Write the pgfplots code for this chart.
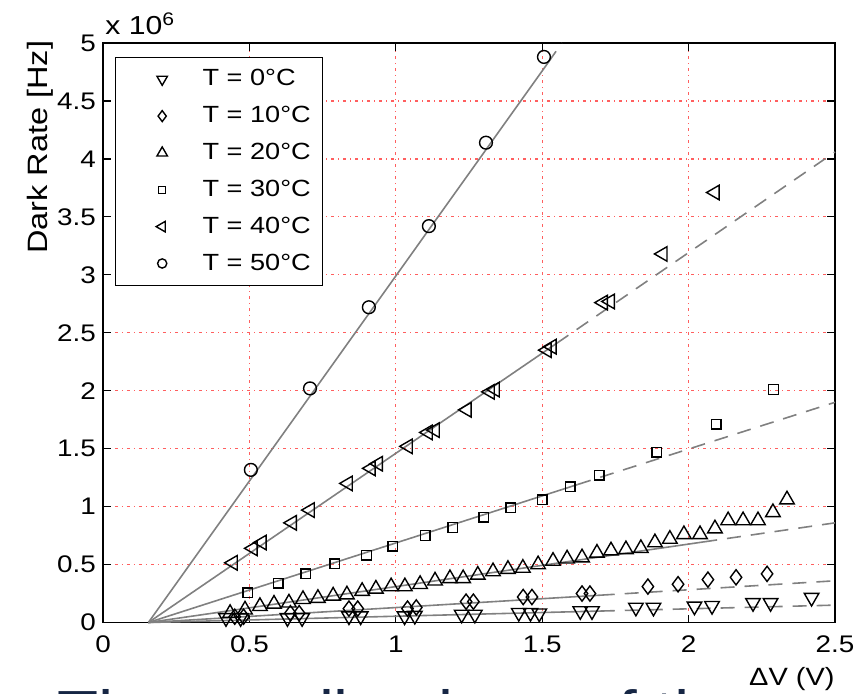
\documentclass[border=0pt]{standalone}
\usepackage{fontspec}
\setmainfont{Liberation Sans}[FakeStretch=1.16]
\usepackage{pgfplots}
\pgfplotsset{compat=1.18}
\definecolor{gridred}{RGB}{255,95,95}
\definecolor{fitgray}{RGB}{128,128,128}
\definecolor{slidenavy}{RGB}{22,38,68}

\begin{document}
\begin{tikzpicture}
\begin{axis}[
  scale only axis,
  width=366pt, height=289.75pt,
  xmin=0, xmax=2.5, ymin=0, ymax=5,
  clip=false,
  xtick={0,0.5,1,1.5,2,2.5},
  ytick={0,0.5,1,1.5,2,2.5,3,3.5,4,4.5,5},
  tick align=inside,
  major tick length=4pt,
  tick style={black, line width=0.6pt},
  axis line style={black, line width=0.7pt},
  grid=major,
  major grid style={gridred, line width=0.6pt, dash pattern=on 1.5pt off 2pt on 0.5pt off 2pt},
  tick label style={font=\fontsize{12}{14}\selectfont},
  xticklabel style={yshift=-3pt},
  /pgf/number format/assume math mode=true,
  legend style={at={(0,1)}, anchor=north west, xshift=6pt, yshift=-7pt,
    draw=black, line width=0.6pt, fill=white,
    font=\fontsize{11.7}{14}\selectfont,
    inner xsep=2pt, inner ysep=4pt, row sep=4.75pt,
    nodes={inner xsep=3.9pt}},
  legend cell align=left,
  legend image code/.code={
    \path (0pt,0pt) (37pt,0pt);
    \draw[#1, every mark/.append style={scale=0.72}] plot coordinates {(21pt,0pt)};
  },
]
% fitted lines: solid over the fit range, dashed beyond
\addplot[forget plot, fitgray, line width=0.8pt] coordinates {(0.155,0) (1.52,4.83)};
\addplot[forget plot, fitgray, line width=0.8pt, dash pattern=on 7pt off 5pt] coordinates {(1.52,4.83) (1.567,5)};
\addplot[forget plot, fitgray, line width=0.8pt] coordinates {(0.155,0) (1.55,2.41)};
\addplot[forget plot, fitgray, line width=0.8pt, dash pattern=on 7pt off 5pt] coordinates {(1.55,2.41) (2.5,4.06)};
\addplot[forget plot, fitgray, line width=0.8pt] coordinates {(0.155,0) (1.62,1.19)};
\addplot[forget plot, fitgray, line width=0.8pt, dash pattern=on 7pt off 5pt] coordinates {(1.62,1.19) (2.5,1.9)};
\addplot[forget plot, fitgray, line width=0.8pt] coordinates {(0.155,0) (2.05,0.695)};
\addplot[forget plot, fitgray, line width=0.8pt, dash pattern=on 7pt off 5pt] coordinates {(2.05,0.695) (2.5,0.86)};
\addplot[forget plot, fitgray, line width=0.8pt] coordinates {(0.155,0) (1.7,0.236)};
\addplot[forget plot, fitgray, line width=0.8pt, dash pattern=on 7pt off 5pt] coordinates {(1.7,0.236) (2.5,0.36)};
\addplot[forget plot, fitgray, line width=0.8pt] coordinates {(0.155,0) (1.7,0.099)};
\addplot[forget plot, fitgray, line width=0.8pt, dash pattern=on 7pt off 5pt] coordinates {(1.7,0.099) (2.5,0.15)};

% measured points (dark rate in units of 10^6 Hz)
\addplot[only marks, mark=triangle, mark size=4.2pt, mark options={black, line width=0.7pt, rotate=180}] coordinates {
  (0.42,0.04) (0.47,0.04) (0.63,0.04) (0.68,0.04) (0.84,0.055) (0.88,0.055)
  (1.03,0.055) (1.065,0.06) (1.225,0.07) (1.27,0.07) (1.42,0.085) (1.46,0.085)
  (1.49,0.08) (1.63,0.1) (1.67,0.1) (1.82,0.13) (1.88,0.13) (2.02,0.14)
  (2.08,0.145) (2.22,0.17) (2.28,0.17) (2.42,0.215)};
\addlegendentry{T = 0°C}
\addplot[only marks, mark=diamond, mark size=3.8pt, mark options={black, line width=0.7pt}] coordinates {
  (0.45,0.05) (0.48,0.05) (0.64,0.08) (0.67,0.08) (0.84,0.12) (0.87,0.12)
  (1.04,0.12) (1.07,0.13) (1.24,0.18) (1.265,0.18) (1.435,0.22) (1.465,0.22)
  (1.636,0.25) (1.663,0.25) (1.861,0.31) (1.964,0.33) (2.066,0.37) (2.162,0.39)
  (2.268,0.42)};
\addlegendentry{T = 10°C}
\addplot[only marks, mark=triangle, mark size=4.2pt, mark options={black, line width=0.7pt}] coordinates {
  (0.434,0.08) (0.485,0.11) (0.536,0.14) (0.584,0.16) (0.635,0.17) (0.683,0.2)
  (0.734,0.21) (0.786,0.23) (0.833,0.24) (0.885,0.27) (0.932,0.29) (0.984,0.31)
  (1.031,0.31) (1.083,0.33) (1.134,0.36) (1.185,0.38) (1.23,0.38) (1.28,0.41)
  (1.332,0.44) (1.383,0.46) (1.434,0.47) (1.486,0.5) (1.537,0.53) (1.585,0.55)
  (1.636,0.56) (1.687,0.6) (1.735,0.62) (1.786,0.63) (1.837,0.64) (1.885,0.69)
  (1.936,0.72) (1.984,0.76) (2.039,0.76) (2.09,0.81) (2.135,0.88) (2.186,0.88)
  (2.237,0.88) (2.288,0.95) (2.336,1.06)};
\addlegendentry{T = 20°C}
\addplot[only marks, mark=square, mark size=2.4pt, mark options={black, line width=0.7pt}] coordinates {
  (0.495,0.255) (0.598,0.34) (0.693,0.42) (0.792,0.505) (0.9,0.58) (0.99,0.66)
  (1.1,0.75) (1.195,0.82) (1.3,0.91) (1.393,0.99) (1.5,1.06) (1.595,1.17)
  (1.694,1.27) (1.892,1.47) (2.094,1.71) (2.29,2.01)};
\addlegendentry{T = 30°C}
\addplot[only marks, mark=triangle, mark size=4.2pt, mark options={black, line width=0.7pt, rotate=90}] coordinates {
  (0.444,0.515) (0.512,0.64) (0.543,0.69) (0.646,0.86) (0.707,0.97) (0.837,1.2)
  (0.915,1.33) (0.94,1.37) (1.042,1.52) (1.11,1.64) (1.134,1.66) (1.243,1.835)
  (1.322,1.99) (1.339,2.01) (1.516,2.35) (1.533,2.38) (1.708,2.76) (1.732,2.77)
  (1.912,3.18) (2.09,3.71)};
\addlegendentry{T = 40°C}
\addplot[only marks, mark=o, mark size=3.2pt, mark options={black, line width=0.7pt}] coordinates {
  (0.505,1.317) (0.707,2.02) (0.908,2.72) (1.113,3.42) (1.308,4.14) (1.506,4.88)};
\addlegendentry{T = 50°C}

\node[anchor=base west, inner sep=0pt, font=\fontsize{13}{15}\selectfont] at (rel axis cs:0,1) [xshift=1pt, yshift=4.5pt] {x 10\textsuperscript{6}};
\node[xshift=-31.5pt, rotate=90, inner sep=0pt, font=\fontsize{14}{16}\selectfont] at (rel axis cs:0,0.82) {Dark Rate [Hz]};
\node[anchor=base east, inner sep=0pt, font=\fontsize{12.5}{14}\selectfont] at (rel axis cs:1,0) [yshift=-31.25pt] {ΔV (V)};
\end{axis}
\node[anchor=base west, inner sep=0pt, text=slidenavy, font=\fontsize{29}{32}\selectfont] at (-23pt,-54.25pt) {The small values of the};
\pgfresetboundingbox
\useasboundingbox (-51.5pt,-35.25pt) rectangle (376.5pt,311.25pt);
\end{tikzpicture}
\end{document}
